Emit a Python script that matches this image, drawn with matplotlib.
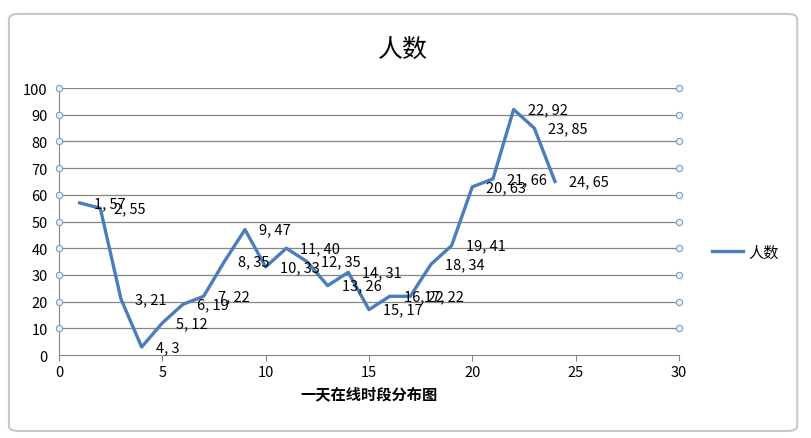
import matplotlib
matplotlib.use("Agg")
from matplotlib import pyplot as plt
from matplotlib.patches import FancyBboxPatch

plt.rcParams['font.family'] = ['Noto Sans CJK SC', 'DejaVu Sans']

hours = [1, 2, 3, 4, 5, 6, 7, 8, 9, 10, 11, 12,
         13, 14, 15, 16, 17, 18, 19, 20, 21, 22, 23, 24]
people = [57, 55, 21, 3, 12, 19, 22, 35, 47, 33, 40, 35,
          26, 31, 17, 22, 22, 34, 41, 63, 66, 92, 85, 65]
title = "人数"
xlabel = "一天在线时段分布图"
series_name = "人数"

fig = plt.figure(figsize=(8.11, 4.39), dpi=100)

# outer chart frame
frame = FancyBboxPatch((0.011, 0.016), 0.972, 0.95,
                       boxstyle="round,pad=0,rounding_size=0.012",
                       transform=fig.transFigure, fill=False,
                       edgecolor="#c8c8c8", linewidth=1.5)
fig.patches.append(frame)

ax = fig.add_axes([0.0727, 0.189, 0.7645, 0.608])
ax.set_xlim(0, 30)
ax.set_ylim(0, 100)

for y in range(10, 101, 10):
    ax.axhline(y, color="#868686", linewidth=0.9, zorder=1)
ax.plot([0] * 10 + [30] * 10, list(range(10, 101, 10)) * 2, "o",
        markersize=4.5, markerfacecolor="#e8f0f8", markeredgecolor="#7f9fbf",
        markeredgewidth=0.8, clip_on=False, zorder=3)

ax.plot(hours, people, color="#4a7ebb", linewidth=2.4, zorder=4,
        label=series_name)

for h, p in zip(hours, people):
    ax.annotate(f"{h}, {p}", (h, p), xytext=(10, 0), textcoords="offset points",
                va="center", ha="left", fontsize=10.5, color="black", zorder=5)

for s in ["top", "right"]:
    ax.spines[s].set_visible(False)
for s in ["left", "bottom"]:
    ax.spines[s].set_color("#868686")
ax.set_xticks(range(0, 31, 5))
ax.set_yticks(range(0, 101, 10))
ax.tick_params(axis="both", colors="#868686", labelcolor="black",
               labelsize=10.5, length=4)
ax.tick_params(axis="y", length=0, pad=8)

ax.set_xlabel(xlabel, fontsize=11, fontweight="bold", labelpad=4)
fig.text(0.497, 0.887, title, ha="center", va="center", fontsize=18)

fig.legend(loc="center left", bbox_to_anchor=(0.878, 0.423), frameon=False,
           fontsize=11, handlelength=2.0, handletextpad=0.4,
           borderpad=0, borderaxespad=0)

fig.savefig("out.png", dpi=100)
